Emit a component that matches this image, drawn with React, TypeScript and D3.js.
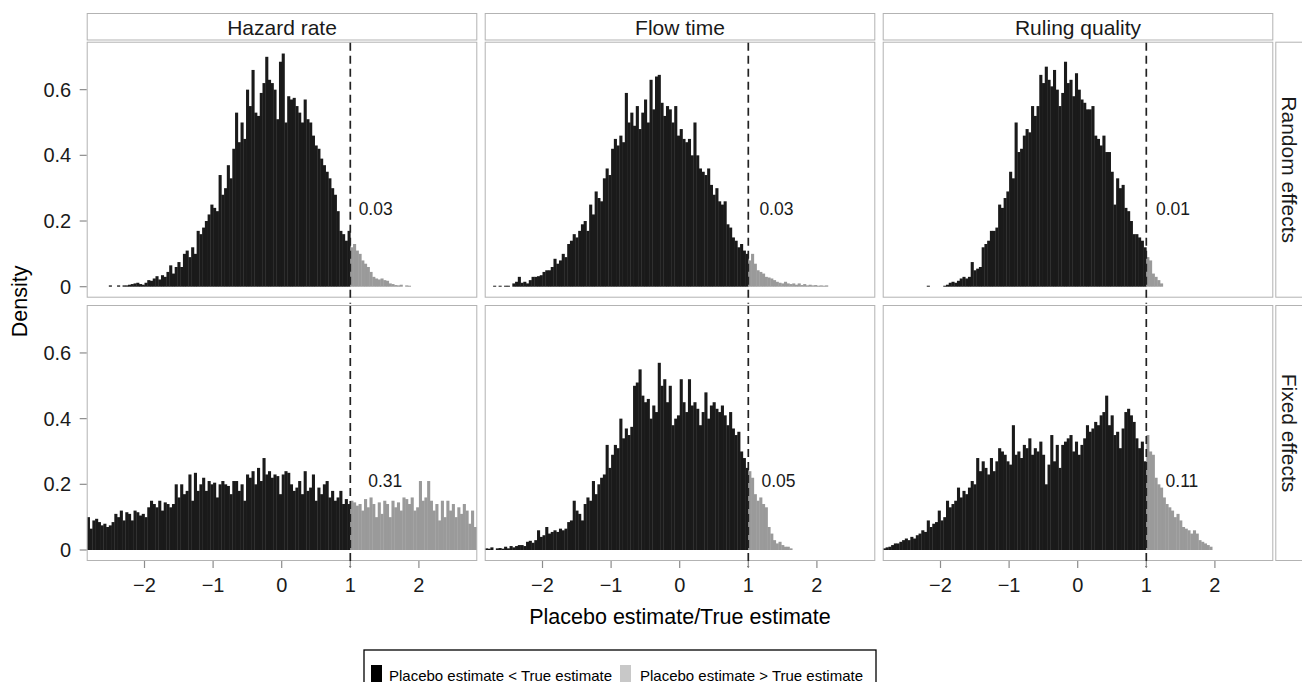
import React from "react";
import * as d3 from "d3";

// ---------- data ----------
const columns = ["Hazard rate", "Flow time", "Ruling quality"];
const rows = ["Random effects", "Fixed effects"];
const binWidth = 0.04;
const threshold = 1;

// Random effects histograms (density per 0.04 bin), start = left edge of first bin
const hazardRandomStart = -2.52;
const hazardRandom = [
  0.004, 0, 0, 0.004, 0,
  0.004, 0.004, 0.006, 0.008, 0.01,
  0.012, 0.008, 0.006, 0.012, 0.02,
  0.018, 0.025, 0.032, 0.022, 0.035,
  0.03, 0.045, 0.065, 0.04, 0.06,
  0.075, 0.06, 0.1, 0.11, 0.09,
  0.12, 0.1, 0.17, 0.16, 0.18,
  0.2, 0.22, 0.25, 0.24, 0.23,
  0.34, 0.28, 0.3, 0.37, 0.33,
  0.42, 0.53, 0.44, 0.5, 0.45,
  0.6, 0.55, 0.66, 0.53, 0.52,
  0.59, 0.62, 0.7, 0.63, 0.62,
  0.6, 0.51, 0.685, 0.71, 0.5,
  0.58, 0.57, 0.575, 0.55, 0.53,
  0.5, 0.57, 0.51, 0.5, 0.46,
  0.43, 0.42, 0.39, 0.37, 0.35,
  0.33, 0.3, 0.28, 0.23, 0.17,
  0.16, 0.14, 0.17, 0.12, 0.13,
  0.11, 0.1, 0.08, 0.07, 0.06,
  0.045, 0.03, 0.025, 0.022, 0.025,
  0.02, 0.018, 0.01, 0.008, 0.005,
  0.004, 0.006, 0, 0.004, 0.003,
];

const flowRandomStart = -2.72;
const flowRandom = [
  0.003, 0, 0.003, 0, 0.003,
  0.003, 0, 0.01, 0.015, 0.03,
  0.012, 0.015, 0.01, 0.02, 0.03,
  0.03, 0.032, 0.035, 0.045, 0.05,
  0.05, 0.06, 0.085, 0.07, 0.08,
  0.1, 0.09, 0.13, 0.14, 0.16,
  0.15, 0.17, 0.19, 0.2, 0.17,
  0.25, 0.22, 0.29, 0.27, 0.26,
  0.33, 0.36, 0.34, 0.42, 0.45,
  0.43, 0.46, 0.44, 0.59, 0.5,
  0.53, 0.49, 0.55, 0.48, 0.53,
  0.57, 0.5, 0.63, 0.54, 0.64,
  0.645, 0.56, 0.52, 0.55, 0.54,
  0.5, 0.55, 0.46, 0.48, 0.45,
  0.44, 0.45, 0.4, 0.5, 0.4,
  0.36, 0.35, 0.34, 0.36, 0.31,
  0.28, 0.3, 0.26, 0.25, 0.26,
  0.19, 0.18, 0.15, 0.14, 0.12,
  0.13, 0.11, 0.1, 0.08, 0.1,
  0.07, 0.05, 0.045, 0.04, 0.03,
  0.028, 0.025, 0.02, 0.015, 0.012,
  0.01, 0.015, 0.01, 0.008, 0.01,
  0.006, 0.01, 0.005, 0.008, 0.004,
  0.006, 0.004, 0.005, 0.003, 0.004,
  0.003, 0.004,
];

const rulingRandomStart = -2.2;
const rulingRandom = [
  0.003, 0, 0, 0, 0,
  0, 0.003, 0.006, 0.012, 0.015,
  0.012, 0.018, 0.025, 0.03, 0.025,
  0.03, 0.075, 0.05, 0.055, 0.06,
  0.12, 0.13, 0.14, 0.17, 0.17,
  0.18, 0.25, 0.24, 0.27, 0.29,
  0.35, 0.33, 0.5, 0.41, 0.42,
  0.46, 0.48, 0.47, 0.55, 0.52,
  0.55, 0.645, 0.62, 0.67, 0.63,
  0.61, 0.66, 0.6, 0.55, 0.59,
  0.685, 0.62, 0.63, 0.58, 0.65,
  0.6, 0.57, 0.56, 0.54, 0.54,
  0.55, 0.46, 0.45, 0.43, 0.46,
  0.41, 0.41, 0.35, 0.25, 0.33,
  0.3, 0.31, 0.24, 0.23, 0.2,
  0.16, 0.16, 0.15, 0.14, 0.12,
  0.09, 0.08, 0.04, 0.03, 0.02,
  0.01,
];

// Fixed effects histograms
const hazardFixedStart = -2.84;
const hazardFixed = [
  0.1, 0.065, 0.09, 0.095, 0.085,
  0.075, 0.08, 0.07, 0.075, 0.085,
  0.11, 0.1, 0.12, 0.09, 0.115,
  0.11, 0.09, 0.12, 0.115, 0.105,
  0.11, 0.1, 0.13, 0.15, 0.14,
  0.13, 0.15, 0.12, 0.145, 0.14,
  0.13, 0.14, 0.2, 0.16, 0.2,
  0.17, 0.18, 0.23, 0.15, 0.235,
  0.18, 0.2, 0.22, 0.18, 0.21,
  0.2, 0.205, 0.16, 0.2, 0.21,
  0.2, 0.195, 0.17, 0.21, 0.21,
  0.18, 0.2, 0.15, 0.23, 0.22,
  0.24, 0.2, 0.25, 0.21, 0.28,
  0.23, 0.24, 0.22, 0.23, 0.225,
  0.17, 0.23, 0.24, 0.235, 0.2,
  0.18, 0.19, 0.21, 0.17, 0.24,
  0.18, 0.19, 0.23, 0.15, 0.19,
  0.17, 0.2, 0.21, 0.16, 0.18,
  0.15, 0.16, 0.18, 0.14, 0.155,
  0.14, 0.15, 0.145, 0.135, 0.14,
  0.12, 0.155, 0.13, 0.16, 0.14,
  0.1, 0.145, 0.11, 0.15, 0.14,
  0.1, 0.15, 0.13, 0.145, 0.12,
  0.16, 0.155, 0.14, 0.16, 0.12,
  0.13, 0.21, 0.15, 0.16, 0.21,
  0.15, 0.12, 0.14, 0.09, 0.15,
  0.1, 0.15, 0.12, 0.14, 0.1,
  0.13, 0.11, 0.14, 0.12, 0.08,
  0.12, 0.07,
];

const flowFixedStart = -2.84;
const flowFixed = [
  0.005, 0.004, 0.008, 0, 0.005,
  0.006, 0.004, 0.01, 0.005, 0.012,
  0.008, 0.012, 0.015, 0.015, 0.012,
  0.025, 0.028, 0.022, 0.03, 0.06,
  0.04, 0.045, 0.07, 0.05, 0.055,
  0.06, 0.055, 0.065, 0.06, 0.065,
  0.085, 0.09, 0.15, 0.12, 0.11,
  0.09, 0.14, 0.16, 0.15, 0.21,
  0.17, 0.2, 0.22, 0.23, 0.32,
  0.25, 0.29, 0.32, 0.31, 0.4,
  0.34, 0.37, 0.35, 0.375, 0.5,
  0.51, 0.55, 0.47, 0.45, 0.46,
  0.4, 0.44, 0.42, 0.57, 0.5,
  0.52, 0.45, 0.5, 0.38, 0.4,
  0.41, 0.52, 0.45, 0.42, 0.52,
  0.44, 0.45, 0.43, 0.38, 0.42,
  0.48, 0.4, 0.44, 0.45, 0.43,
  0.42, 0.44, 0.41, 0.38, 0.42,
  0.37, 0.35, 0.36, 0.3, 0.28,
  0.25, 0.24, 0.22, 0.17, 0.15,
  0.16, 0.14, 0.13, 0.07, 0.05,
  0.03, 0.02, 0.025, 0.015, 0.01,
  0.01, 0.005,
];

const rulingFixedStart = -2.84;
const rulingFixed = [
  0.005, 0.008, 0.01, 0.015, 0.02,
  0.02, 0.025, 0.03, 0.035, 0.03,
  0.04, 0.035, 0.045, 0.05, 0.06,
  0.055, 0.09, 0.07, 0.08, 0.085,
  0.12, 0.09, 0.1, 0.15, 0.13,
  0.14, 0.15, 0.19, 0.16, 0.18,
  0.17, 0.19, 0.21, 0.2, 0.28,
  0.24, 0.27, 0.25, 0.23, 0.28,
  0.24, 0.27, 0.31, 0.3, 0.29,
  0.27, 0.26, 0.38, 0.29, 0.3,
  0.28, 0.32, 0.31, 0.34, 0.29,
  0.31, 0.3, 0.33, 0.29, 0.2,
  0.26, 0.35, 0.27, 0.32, 0.25,
  0.32, 0.33, 0.34, 0.35, 0.3,
  0.33, 0.29, 0.32, 0.34, 0.38,
  0.36, 0.37, 0.39, 0.38, 0.41,
  0.42, 0.47, 0.38, 0.41, 0.35,
  0.36, 0.31, 0.37, 0.42, 0.43,
  0.41, 0.39, 0.34, 0.31, 0.33,
  0.27, 0.35, 0.3, 0.29, 0.22,
  0.2, 0.19, 0.16, 0.14, 0.13,
  0.12, 0.1, 0.11, 0.09, 0.07,
  0.065, 0.06, 0.05, 0.06, 0.05,
  0.03, 0.025, 0.02, 0.015, 0.01,
];

const shareLabels = [
  ["0.03", "0.03", "0.01"],
  ["0.31", "0.05", "0.11"],
];
const xTicks = [-2, -1, 0, 1, 2];
const yTicks = [0, 0.2, 0.4, 0.6];
const legendItems = ["Placebo estimate < True estimate", "Placebo estimate > True estimate"];

const panels = [
  [
    { start: hazardRandomStart, values: hazardRandom },
    { start: flowRandomStart, values: flowRandom },
    { start: rulingRandomStart, values: rulingRandom },
  ],
  [
    { start: hazardFixedStart, values: hazardFixed },
    { start: flowFixedStart, values: flowFixed },
    { start: rulingFixedStart, values: rulingFixed },
  ],
];

// ---------- layout ----------
const W = 1302;
const H = 682;
const panelW = 390.6;
const panelGapX = 7.4;
const panelH = 256;
const leftX = 86.7;
const topY = [41.7, 305];
const labelX = [
  [1.37, 1.41, 1.39],
  [1.51, 1.44, 1.52],
];
const labelY = [0.236, 0.21];

const FONT = "'Liberation Sans', Arial, Helvetica, sans-serif";
const DARK = "#1a1a1a";
const GREY = "#9a9a9a";
const BORDER = "#b3b3b3";
const TICK = "#8c8c8c";

const fmtTick = (v: number) => (v < 0 ? "\u2212" + Math.abs(v) : String(v));

export default function App() {
  const panelLefts = columns.map((_, c) => leftX + c * (panelW + panelGapX));
  const rightEdge = panelLefts[2] + panelW;

  return (
    <svg
      width={W}
      height={H}
      style={{ position: "absolute", left: 0, top: 0, background: "#fff" }}
      fontFamily={FONT}
    >
      <defs>
        {rows.map((_, r) =>
          columns.map((_, c) => (
            <clipPath id={`clip-${r}-${c}`} key={`cp-${r}-${c}`}>
              <rect x={panelLefts[c]} y={topY[r]} width={panelW} height={panelH} />
            </clipPath>
          ))
        )}
      </defs>

      {/* column strips */}
      {columns.map((name, c) => (
        <g key={`strip-${c}`}>
          <rect x={panelLefts[c] + 0.5} y={13.5} width={panelW - 1} height={26.5} fill="#fff" stroke={BORDER} strokeWidth={1} />
          <text x={panelLefts[c] + panelW / 2} y={27} textAnchor="middle" dominantBaseline="central" fontSize={21} fill={DARK}>
            {name}
          </text>
        </g>
      ))}

      {/* row strips */}
      {rows.map((name, r) => {
        const cx = rightEdge + 2 + 14;
        const cy = topY[r] + panelH / 2;
        return (
          <g key={`rstrip-${r}`}>
            <rect x={rightEdge + 2.5} y={topY[r] + 0.5} width={27} height={panelH - 1} fill="#fff" stroke={BORDER} strokeWidth={1} />
            <text x={cx} y={cy} transform={`rotate(90 ${cx} ${cy})`} textAnchor="middle" dominantBaseline="central" fontSize={21} fill={DARK}>
              {name}
            </text>
          </g>
        );
      })}

      {rows.map((_, r) =>
        columns.map((_, c) => {
          const x0 = panelLefts[c];
          const y0 = topY[r];
          const xs = d3.scaleLinear().domain([-2.8426, 2.8513]).range([x0, x0 + panelW]);
          const ys = d3.scaleLinear().domain([-0.0335, 0.746]).range([y0 + panelH, y0]);
          const { start, values } = panels[r][c];
          const bins = values.map((v, i) => {
            const a = start + i * binWidth;
            return { a, b: a + binWidth, v };
          });
          return (
            <g key={`panel-${r}-${c}`}>
              <rect x={x0} y={y0} width={panelW} height={panelH} fill="#fff" />
              <g clipPath={`url(#clip-${r}-${c})`}>
                {bins
                  .filter((d) => d.v > 0)
                  .map((d, i) => (
                    <rect
                      key={i}
                      x={xs(d.a)}
                      y={ys(d.v)}
                      width={xs(d.b) - xs(d.a) + 0.35}
                      height={ys(0) - ys(d.v)}
                      fill={d.a >= threshold - 1e-9 ? GREY : DARK}
                    />
                  ))}
              </g>
              <rect x={x0 + 0.5} y={y0 + 0.5} width={panelW - 1} height={panelH - 1} fill="none" stroke={BORDER} strokeWidth={1} />
              {/* vertical dashed line at ratio 1 */}
              <line
                x1={xs(threshold)}
                x2={xs(threshold)}
                y1={y0 + 1}
                y2={y0 + panelH + 6}
                stroke="#222"
                strokeWidth={1.7}
                strokeDasharray="8,5"
              />
              <text
                x={xs(labelX[r][c])}
                y={ys(labelY[r])}
                textAnchor="middle"
                dominantBaseline="central"
                fontSize={17.5}
                fill={DARK}
              >
                {shareLabels[r][c]}
              </text>
              {/* y axis */}
              {c === 0 &&
                yTicks.map((t) => (
                  <g key={`yt-${t}`}>
                    <line x1={x0 - 7} x2={x0} y1={ys(t)} y2={ys(t)} stroke={TICK} strokeWidth={1.2} />
                    <text x={x0 - 15.5} y={ys(t)} textAnchor="end" dominantBaseline="central" fontSize={20} fill={DARK}>
                      {String(t)}
                    </text>
                  </g>
                ))}
              {/* x axis */}
              {r === 1 &&
                xTicks.map((t) => (
                  <g key={`xt-${t}`}>
                    <line x1={xs(t)} x2={xs(t)} y1={y0 + panelH} y2={y0 + panelH + 7} stroke={TICK} strokeWidth={1.2} />
                    <text x={xs(t)} y={y0 + panelH + 24} textAnchor="middle" dominantBaseline="central" fontSize={20} fill={DARK}>
                      {fmtTick(t)}
                    </text>
                  </g>
                ))}
            </g>
          );
        })
      )}

      {/* axis titles */}
      <text x={(leftX + rightEdge) / 2} y={617} textAnchor="middle" dominantBaseline="central" fontSize={21.5} fill="#000">
        Placebo estimate/True estimate
      </text>
      <text
        x={20}
        y={(topY[0] + topY[1] + panelH) / 2}
        transform={`rotate(-90 20 ${(topY[0] + topY[1] + panelH) / 2})`}
        textAnchor="middle"
        dominantBaseline="central"
        fontSize={21.5}
        fill="#000"
      >
        Density
      </text>

      {/* legend */}
      <rect x={364} y={650} width={512} height={44} fill="#fff" stroke="#000" strokeWidth={1.3} />
      <rect x={371} y={665} width={11} height={20} fill="#000" />
      <text x={389} y={675} dominantBaseline="central" fontSize={15} fill="#000">
        {legendItems[0]}
      </text>
      <rect x={620} y={665} width={11} height={20} fill="#c8c8c8" />
      <text x={640} y={675} dominantBaseline="central" fontSize={15} fill="#000">
        {legendItems[1]}
      </text>
    </svg>
  );
}
